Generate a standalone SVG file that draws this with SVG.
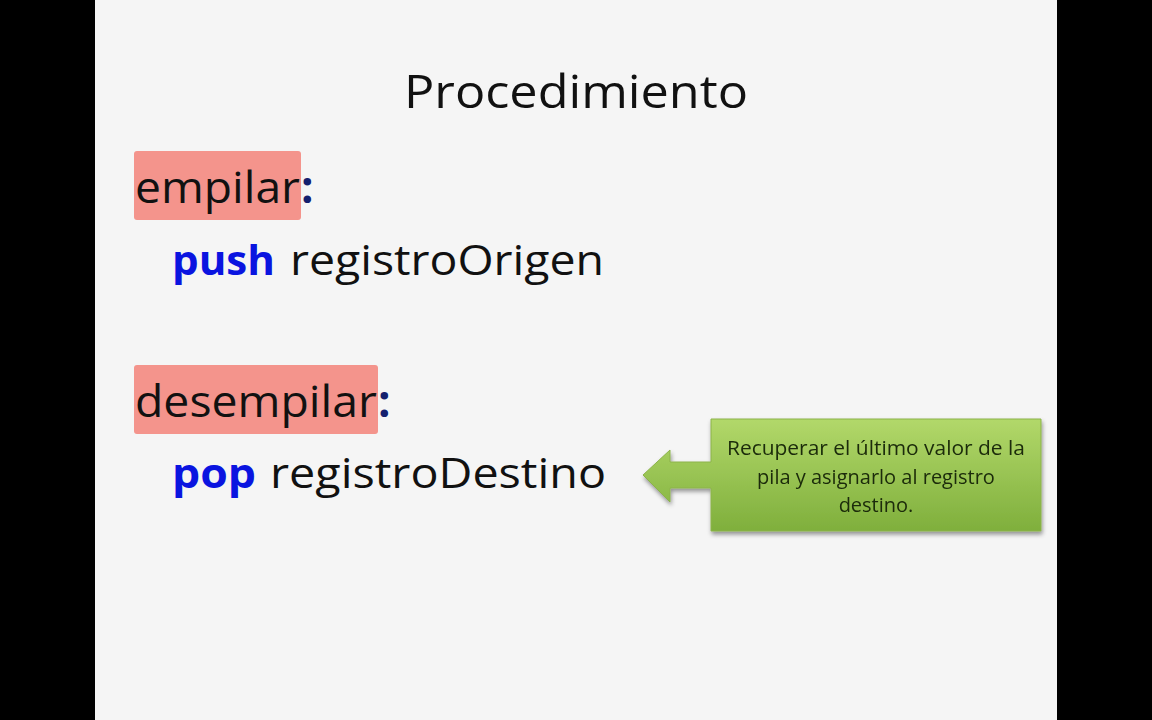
<svg xmlns="http://www.w3.org/2000/svg" width="1152" height="720" viewBox="0 0 1152 720">
<defs>
<linearGradient id="g" x1="0" y1="0" x2="0" y2="1"><stop offset="0" stop-color="#b2d86a"/><stop offset="1" stop-color="#7faf3c"/></linearGradient>
<filter id="sh" x="-10%" y="-10%" width="120%" height="130%"><feDropShadow dx="1" dy="3" stdDeviation="2" flood-opacity="0.4"/></filter>
</defs>
<style>
.t{font-family:"Open Sans","Liberation Sans",sans-serif;fill:#111}
.kw{font-family:"Open Sans","Liberation Sans",sans-serif;font-weight:bold;fill:#0a14e0}
.hl{fill:#f4948c}
.c{font-family:"Open Sans","Liberation Sans",sans-serif;font-size:20px;fill:#1a2a08;text-anchor:middle}
</style>
<rect width="1152" height="720" fill="#000"/>
<rect x="95" y="0" width="962" height="720" fill="#f5f5f5"/>
<text class="t" x="576" y="108" font-size="46" text-anchor="middle" textLength="344" lengthAdjust="spacingAndGlyphs">Procedimiento</text>
<g id="empilar">
<rect class="hl" x="134" y="151" width="167" height="69" rx="3"/>
<text class="t" x="135" y="203" font-size="44" textLength="165" lengthAdjust="spacingAndGlyphs">empilar</text>
<text x="301" y="203" font-size="44" font-weight="bold" fill="#14206e" font-family="Open Sans,sans-serif">:</text>
</g>
<g id="push">
<text class="kw" x="172" y="275" font-size="42" textLength="103" lengthAdjust="spacingAndGlyphs">push</text>
<text class="t" x="290" y="275" font-size="42" textLength="314" lengthAdjust="spacingAndGlyphs">registroOrigen</text>
</g>
<g id="desempilar">
<rect class="hl" x="134" y="365" width="244" height="69" rx="3"/>
<text class="t" x="135" y="417" font-size="44" textLength="242" lengthAdjust="spacingAndGlyphs">desempilar</text>
<text x="378" y="417" font-size="44" font-weight="bold" fill="#14206e" font-family="Open Sans,sans-serif">:</text>
</g>
<g id="pop">
<text class="kw" x="172" y="488" font-size="42" textLength="84" lengthAdjust="spacingAndGlyphs">pop</text>
<text class="t" x="270" y="488" font-size="42" textLength="336" lengthAdjust="spacingAndGlyphs">registroDestino</text>
</g>
<g id="callout" filter="url(#sh)">
<path d="M711,419 H1041 V531 H711 V488 H670 V502 L643,475 L670,450 V462 H711 Z" fill="url(#g)" stroke="#8cb34a" stroke-width="1"/>
<text class="c" x="876" y="455" textLength="298" lengthAdjust="spacingAndGlyphs">Recuperar el último valor de la</text>
<text class="c" x="876" y="484">pila y asignarlo al registro</text>
<text class="c" x="876" y="512">destino.</text>
</g>
</svg>
